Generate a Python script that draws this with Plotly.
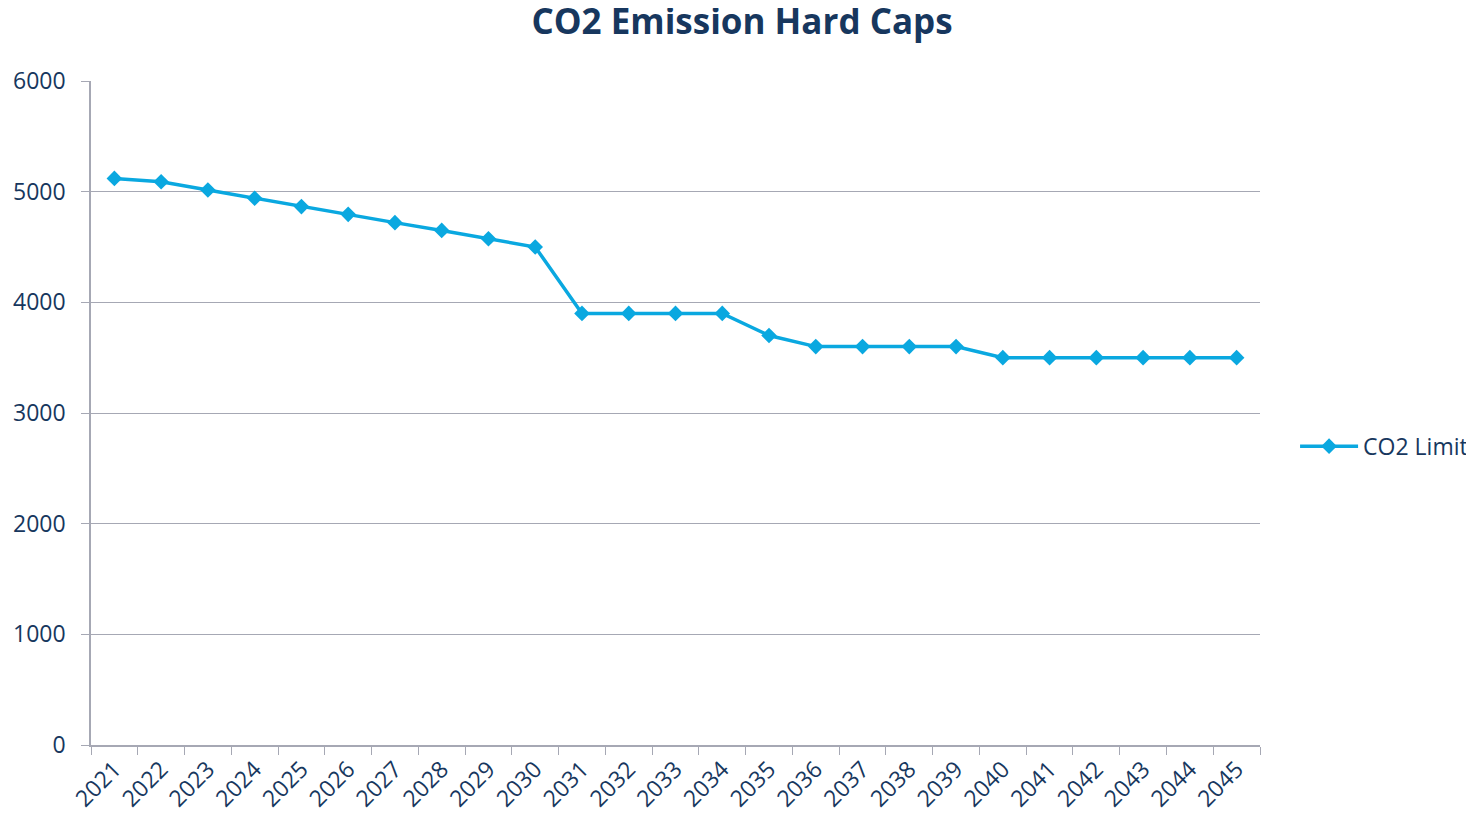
import plotly.graph_objects as go

years = [str(y) for y in range(2021, 2046)]
co2_limit = [5120, 5090, 5015, 4940, 4865, 4795, 4720, 4650, 4575, 4500,
             3900, 3900, 3900, 3900, 3700, 3600, 3600, 3600, 3600, 3500,
             3500, 3500, 3500, 3500, 3500]
y_ticks = [0, 1000, 2000, 3000, 4000, 5000, 6000]

text_color = "#17375E"
line_color = "#0AA8E0"
grid_color = "#A6A8B4"

fig = go.Figure()
fig.add_trace(go.Scatter(
    x=years, y=co2_limit, mode="lines+markers", name="CO2 Limit",
    line=dict(color=line_color, width=3.5),
    marker=dict(symbol="diamond", size=12, color=line_color),
))

fig.update_layout(
    width=1474, height=820,
    paper_bgcolor="white", plot_bgcolor="white",
    margin=dict(l=83, r=222, t=73, b=83, autoexpand=False),
    font=dict(family="Open Sans", size=23, color=text_color),
    title=dict(text="<b>CO2 Emission Hard Caps</b>", x=0.498, xref="container",
               y=0.983, yref="container", yanchor="middle",
               font=dict(family="Open Sans", size=35, color=text_color)),
    legend=dict(x=1.03, y=0.45, xanchor="left", yanchor="middle",
                itemwidth=58,
                font=dict(size=23, color=text_color), bgcolor="rgba(0,0,0,0)"),
    showlegend=True,
)
fig.update_xaxes(
    type="category", range=[-0.5, 24.5], tickangle=-45, tickson="boundaries",
    ticks="outside", ticklen=8, tickcolor=grid_color, automargin=False,
    showline=True, linecolor=grid_color, linewidth=1.5,
    showgrid=False, tickfont=dict(size=23, color=text_color),
)
fig.update_yaxes(
    range=[0, 6000], tickvals=y_ticks, ticks="outside", ticklen=8,
    tickcolor=grid_color, showline=True, linecolor=grid_color, linewidth=1.5,
    showgrid=True, gridcolor=grid_color, gridwidth=1.2, zeroline=False,
    automargin=False,
    tickfont=dict(size=23, color=text_color), ticklabelstandoff=11,
)

fig.write_html("out.html")
